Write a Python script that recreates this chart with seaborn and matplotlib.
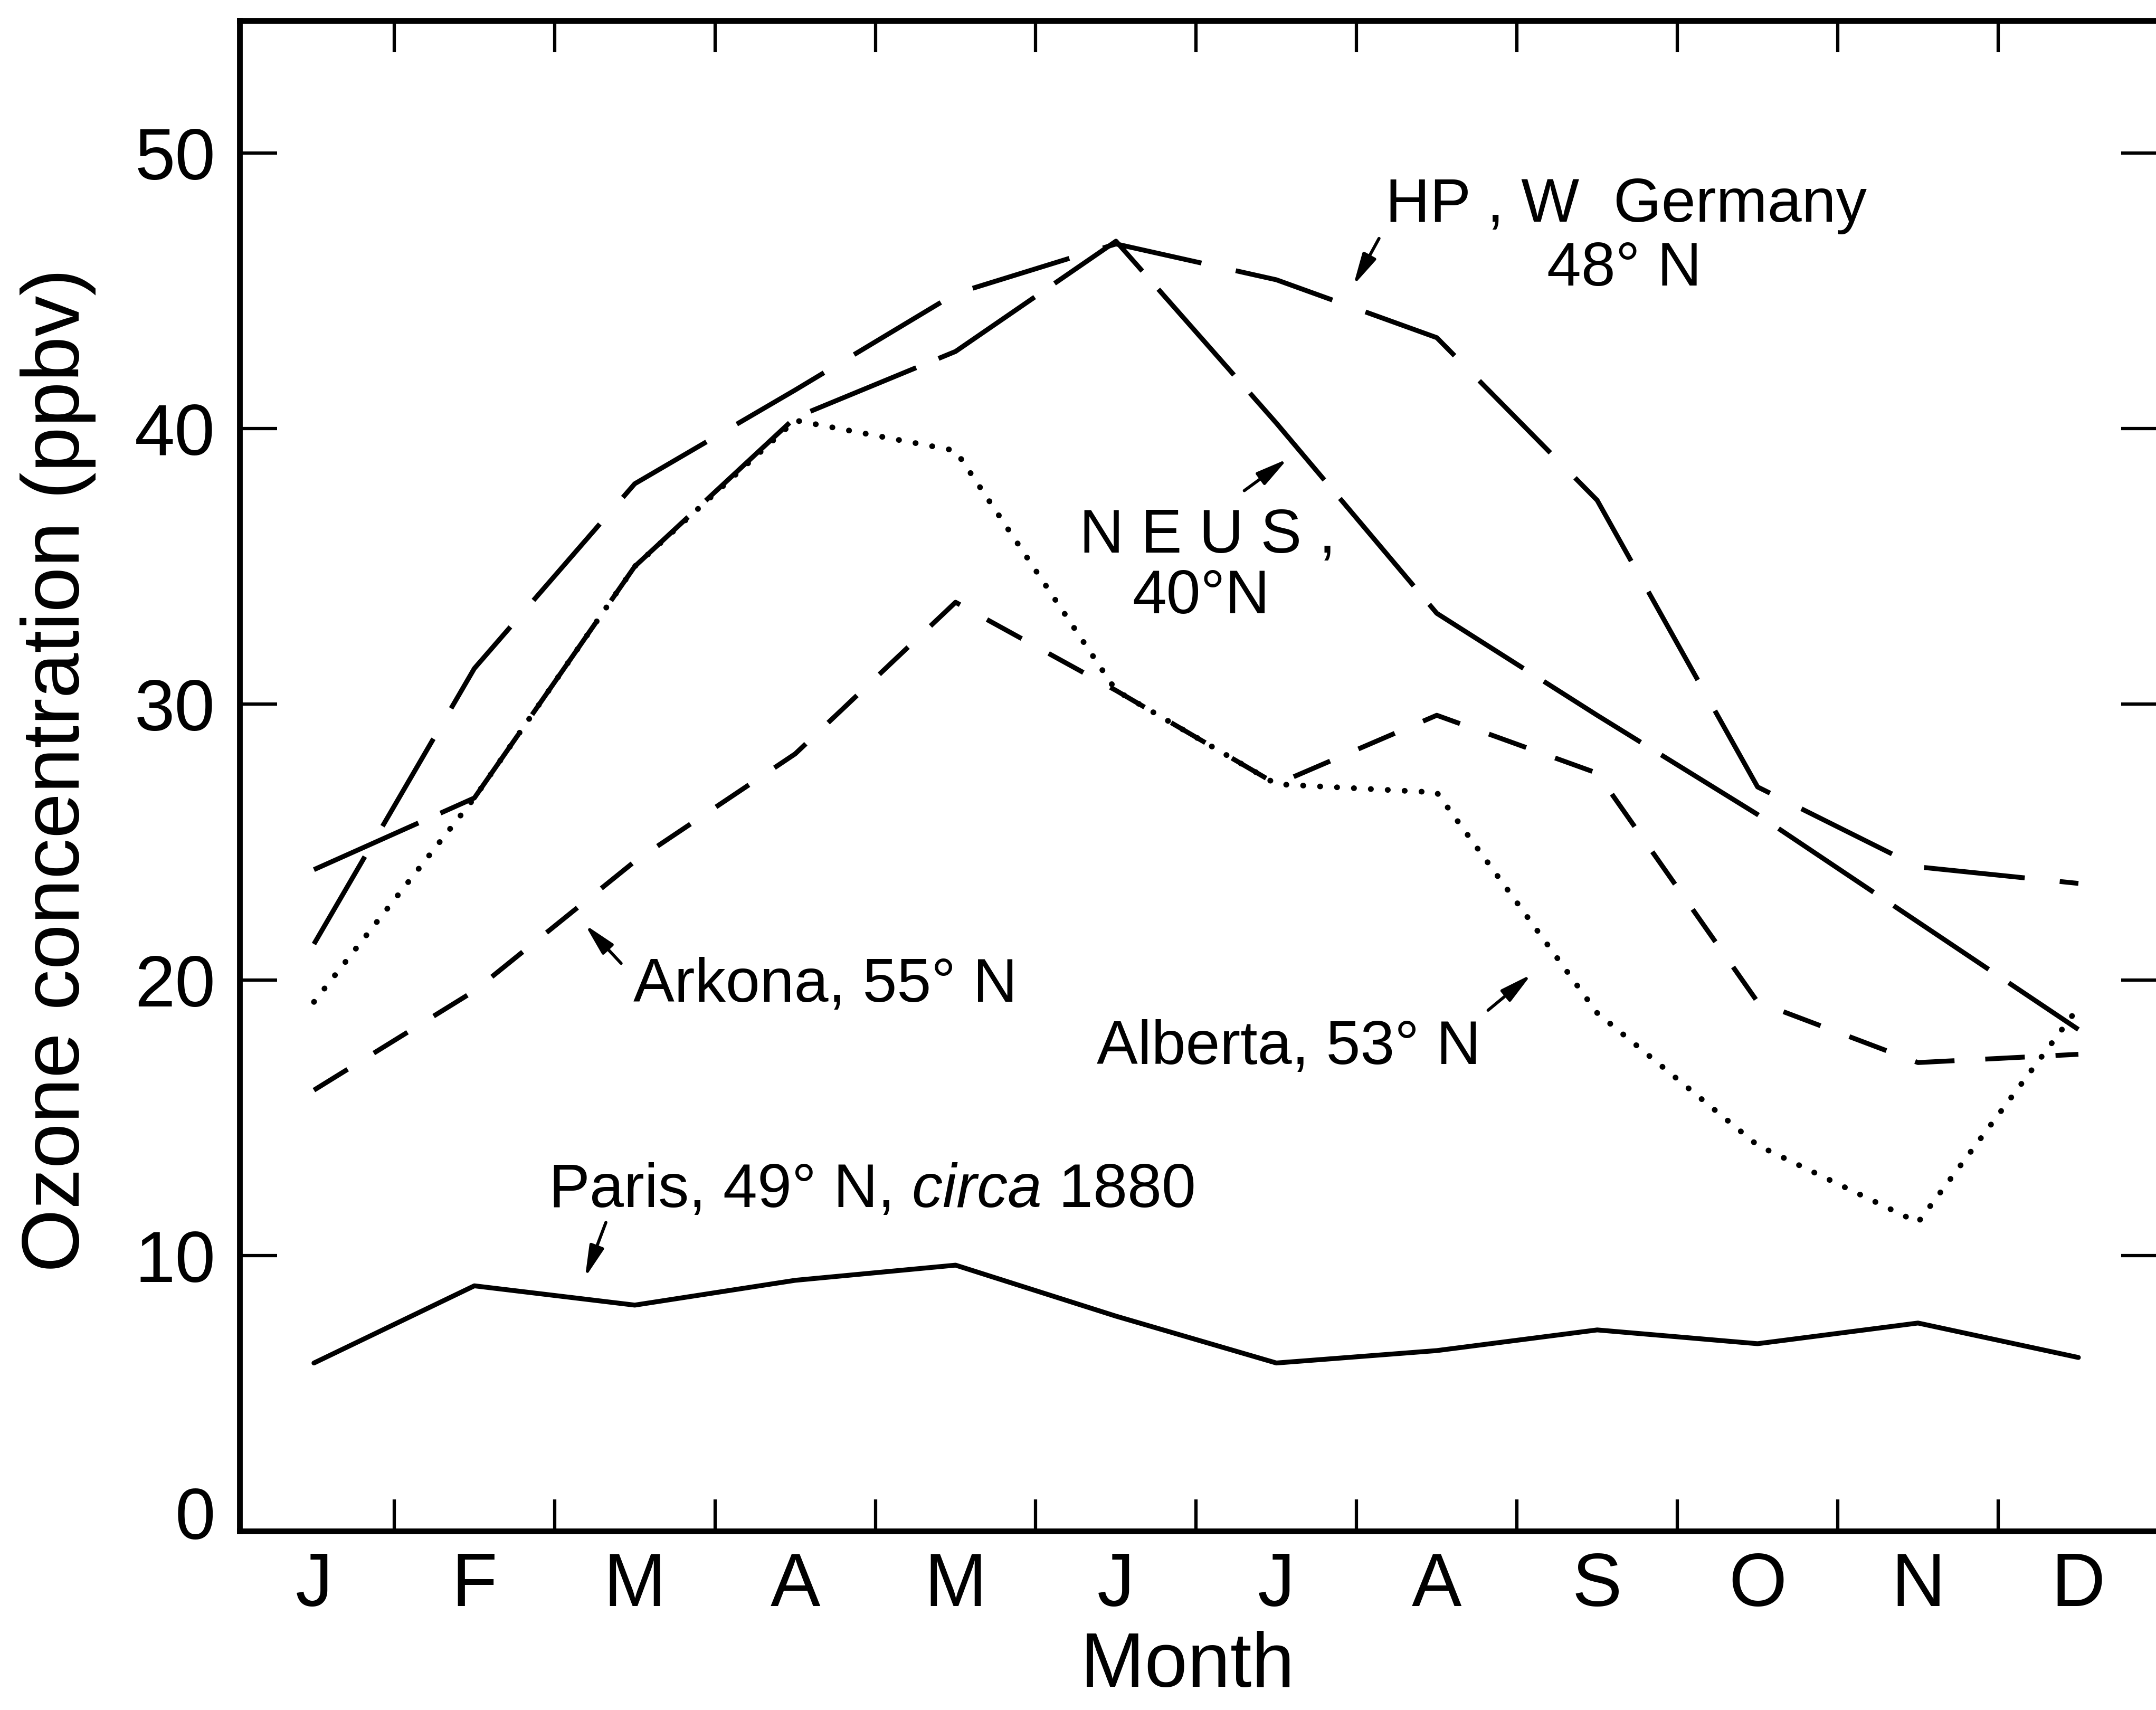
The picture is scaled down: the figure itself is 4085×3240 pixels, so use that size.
import numpy as np
import pandas as pd
import matplotlib
matplotlib.use("Agg")
import matplotlib.pyplot as plt
import matplotlib.transforms as mtransforms
import seaborn as sns

# Monthly mean surface ozone (ppbv)
months = ["J", "F", "M", "A", "M", "J", "J", "A", "S", "O", "N", "D"]

hp_germany = [21.3, 31.3, 38.0, 41.4, 44.9, 46.7, 45.4, 43.3, 37.4, 27.0, 24.1, 23.5]
ne_us = [24.0, 26.6, 35.0, 40.4, 42.8, 46.8, 40.2, 33.3, 29.6, 26.0, 22.1, 18.2]
alberta = [19.2, 26.6, 35.0, 40.3, 39.2, 30.5, 27.1, 26.8, 18.8, 14.0, 11.2, 19.0]
arkona = [16.0, 19.6, 24.3, 28.2, 33.7, 30.5, 27.1, 29.6, 27.5, 19.2, 17.0, 17.3]
paris_1880 = [6.1, 8.9, 8.2, 9.1, 9.65, 7.8, 6.1, 6.55, 7.3, 6.8, 7.55, 6.3]

yticks = [0, 10, 20, 30, 40, 50]

sns.set_theme(style="white")
plt.rcParams["font.family"] = ["Liberation Sans", "DejaVu Sans"]
plt.rcParams["mathtext.fontset"] = "custom"
plt.rcParams["mathtext.rm"] = "Liberation Sans"
plt.rcParams["mathtext.it"] = "Liberation Sans:italic"
plt.rcParams["lines.scale_dashes"] = False
plt.rcParams["text.color"] = "black"
plt.rcParams["axes.labelcolor"] = "black"
plt.rcParams["xtick.color"] = "black"
plt.rcParams["ytick.color"] = "black"

idx = np.arange(len(months))
frames = []
for name, vals in [("HP, W Germany", hp_germany), ("NE US", ne_us),
                   ("Alberta", alberta), ("Arkona", arkona),
                   ("Paris", paris_1880)]:
    frames.append(pd.DataFrame({"month": idx, "ozone": vals, "site": name}))
df = pd.concat(frames, ignore_index=True)

# line appearance per site (dash lengths in points)
styles = {
    "HP, W Germany": dict(linestyle=(0, (46, 16)), linewidth=2.2, dash_capstyle="butt"),
    "NE US": dict(linestyle=(0, (52, 11)), linewidth=2.2, dash_capstyle="butt"),
    "Alberta": dict(linestyle=(0, (0.1, 7.6)), linewidth=2.6, dash_capstyle="round"),
    "Arkona": dict(linestyle=(0, (18, 14)), linewidth=2.2, dash_capstyle="butt"),
    "Paris": dict(linestyle="-", linewidth=2.2),
}

W, H, DPI = 4085, 3240, 300
fig = plt.figure(figsize=(W / DPI, H / DPI), dpi=DPI)
fig.patch.set_facecolor("white")
ax = fig.add_axes([0.1111, 0.1046, 0.8901, 0.8833])
ax.set_facecolor("white")

for name, sub in df.groupby("site", sort=False):
    sns.lineplot(data=sub, x="month", y="ozone", ax=ax, color="black",
                 estimator=None, errorbar=None, legend=False, **styles[name])

ax.set_xlim(-0.464, 11.5)
ax.set_ylim(0, 54.8)

# month boundaries carry the tick marks, month centres carry the labels
ax.set_xticks(np.arange(11) + 0.5)
ax.set_xticklabels([])
ax.set_xticks(idx, minor=True)
ax.set_xticklabels(months, minor=True)
ax.tick_params(axis="x", which="major", direction="in", length=14.5, width=1.5,
               top=True, bottom=True, labelbottom=False)
ax.tick_params(axis="x", which="minor", length=0, pad=9, labelsize=34,
               bottom=True, top=False)

ax.set_yticks(yticks)
ax.set_yticklabels([str(t) for t in yticks])
ax.tick_params(axis="y", direction="in", length=17, width=1.5,
               left=True, right=True, labelsize=33, pad=11)
zero_lab = ax.get_yticklabels()[0]
zero_lab.set_transform(zero_lab.get_transform() +
                       mtransforms.ScaledTranslation(0, 35 / DPI, fig.dpi_scale_trans))

for sp in ax.spines.values():
    sp.set_visible(True)
    sp.set_color("black")
    sp.set_linewidth(2.6)

ax.set_xlabel("Month", fontsize=35)
ax.set_ylabel("Ozone concentration (ppbv)", fontsize=37)
ax.xaxis.set_label_coords(0.494, -0.066)
ax.yaxis.set_label_coords(-0.0748, 0.504)

# site labels with pointers
fs = 28
ax.text(8.18, 47.5, "HP , W  Germany", ha="center", va="baseline", fontsize=fs)
ax.text(8.17, 45.2, "48° N", ha="center", va="baseline", fontsize=fs)
ax.text(5.57, 35.5, "N E U S ,", ha="center", va="baseline", fontsize=fs)
ax.text(5.53, 33.3, "40°N", ha="center", va="baseline", fontsize=fs)
ax.text(1.99, 19.2, "Arkona, 55° N", ha="left", va="baseline", fontsize=fs)
ax.text(4.88, 16.95, "Alberta, 53° N", ha="left", va="baseline", fontsize=fs)
ax.text(1.46, 11.76, r"Paris, 49° N, $\mathit{circa}$ 1880", ha="left",
        va="baseline", fontsize=fs)

arrow_kw = dict(arrowstyle="-|>,head_length=0.6,head_width=0.14", color="black",
                lw=1.4, mutation_scale=20, shrinkA=0, shrinkB=0)
pointers = [
    ((6.48, 45.2), (6.64, 46.9)),   # HP, W Germany
    ((6.07, 38.9), (5.80, 37.75)),  # NE US
    ((1.69, 22.0), (1.915, 20.6)),  # Arkona
    ((7.59, 20.2), (7.32, 18.9)),   # Alberta
    ((1.69, 9.2), (1.82, 11.2)),    # Paris
]
for tip, tail in pointers:
    ax.annotate("", xy=tip, xytext=tail, arrowprops=arrow_kw)

fig.savefig("out.png", dpi=DPI, facecolor="white")
